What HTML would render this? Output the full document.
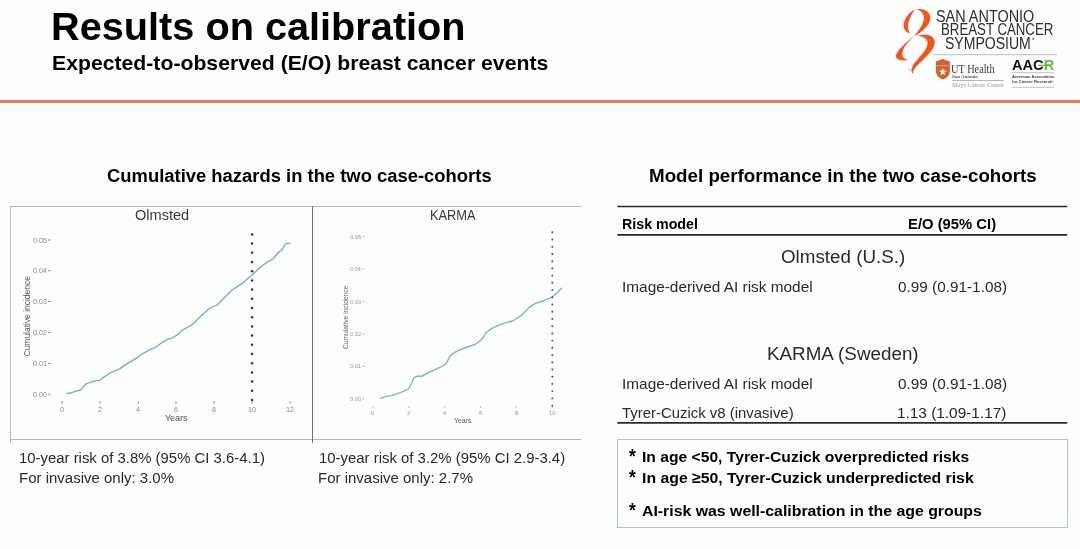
<!DOCTYPE html>
<html><head><meta charset="utf-8"><title>Results on calibration</title>
<style>
#w{position:absolute;left:0;top:0;width:1080px;height:549px;filter:blur(0.45px);}
html,body{margin:0;padding:0;background:#fdfdfd;}
body{width:1080px;height:549px;position:relative;overflow:hidden;font-family:"Liberation Sans",sans-serif;}
.t{position:absolute;white-space:pre;transform-origin:0 0;}
.ln{position:absolute;}
svg{position:absolute;left:0;top:0;overflow:visible}
</style></head><body><div id="w">
<!-- orange rule -->
<div class="ln" style="left:-8px;top:100px;width:1096px;height:3px;background:#ec7856"></div>

<!-- chart frame, table rules, notes box, curves -->
<svg width="1080" height="549" viewBox="0 0 1080 549">
  <!-- chart frame -->
  <g stroke="#b9b9b9" stroke-width="1" fill="none" shape-rendering="crispEdges">
    <line x1="10" y1="206.5" x2="581" y2="206.5"/>
    <line x1="10" y1="439.5" x2="581" y2="439.5"/>
    <line x1="10.5" y1="206" x2="10.5" y2="443"/>
  </g>
  <line x1="312.5" y1="206" x2="312.5" y2="443" stroke="#737373" stroke-width="1" shape-rendering="crispEdges"/>

  <!-- table rules -->
  <g stroke="#2a2a2a" fill="none">
    <line x1="617.3" y1="206.5" x2="1067.2" y2="206.5" stroke-width="1.5"/>
    <line x1="617.3" y1="234.8" x2="1067.2" y2="234.8" stroke-width="1.8"/>
    <line x1="617.3" y1="422.8" x2="1067.2" y2="422.8" stroke-width="1.8"/>
  </g>
  <!-- notes box -->
  <rect x="617.5" y="439.5" width="450" height="88" fill="none" stroke="#aec6d1" stroke-width="1"/>

  <!-- Olmsted chart -->
  <g stroke="#777" stroke-width="0.9" fill="none">
    <path d="M48.2 240H50.6 M48.2 270.6H50.6 M48.2 301.5H50.6 M48.2 332.5H50.6 M48.2 363.4H50.6 M48.2 394.2H50.6"/>
    <path d="M62 401.2V403.6 M100.2 401.2V403.6 M138.2 401.2V403.6 M176 401.2V403.6 M214 401.2V403.6 M252 401.2V403.6 M290 401.2V403.6"/>
  </g>
  <path id="olm" fill="none" stroke="#5cb0dc" stroke-width="1.3" stroke-linejoin="round" stroke-linecap="round"
   d="M67 393.4 L71 393 L76 391.2 L81 390 L83 387 L86 384 L90 382.4 L96 380.6 L99.6 380.6 L104 377 L110 373 L120 368.6 L126 364.4 L136 358.4 L142 354 L150 349.6 L156 347 L162 342.4 L168 339.2 L172 338 L178 334.4 L182 330.4 L190 326 L194 323 L203 314 L210 308 L217 305 L224 298 L232 290 L242 283.6 L252 275 L260 267.6 L268 261.6 L273 259 L278 253 L282 250 L285 244.4 L288 243.2 L290 243.6"/>
  <g fill="#2f22b4" id="od"><circle cx="252.1" cy="234.4" r="1.25"/><circle cx="252.1" cy="243.6" r="1.25"/><circle cx="252.1" cy="252.8" r="1.25"/><circle cx="252.1" cy="262.0" r="1.25"/><circle cx="252.1" cy="271.2" r="1.25"/><circle cx="252.1" cy="280.4" r="1.25"/><circle cx="252.1" cy="289.6" r="1.25"/><circle cx="252.1" cy="298.8" r="1.25"/><circle cx="252.1" cy="308.0" r="1.25"/><circle cx="252.1" cy="317.2" r="1.25"/><circle cx="252.1" cy="326.4" r="1.25"/><circle cx="252.1" cy="335.6" r="1.25"/><circle cx="252.1" cy="344.8" r="1.25"/><circle cx="252.1" cy="354.0" r="1.25"/><circle cx="252.1" cy="363.2" r="1.25"/><circle cx="252.1" cy="372.4" r="1.25"/><circle cx="252.1" cy="381.6" r="1.25"/><circle cx="252.1" cy="390.8" r="1.25"/><circle cx="252.1" cy="400.0" r="1.25"/></g>

  <!-- KARMA chart -->
  <g stroke="#9a9a9a" stroke-width="0.8" fill="none">
    <path d="M362.5 236.6H364.3 M362.5 269H364.3 M362.5 301.5H364.3 M362.5 334H364.3 M362.5 366.3H364.3 M362.5 398.8H364.3"/>
    <path d="M373 406.2V407.8 M408.8 406.2V407.8 M444.6 406.2V407.8 M480.5 406.2V407.8 M516.2 406.2V407.8 M552.3 406.2V407.8"/>
  </g>
  <path id="kar" fill="none" stroke="#6ab6dc" stroke-width="1.35" stroke-linejoin="round" stroke-linecap="round"
   d="M380.4 398.3 L386.5 396.1 L392 395.6 L397.4 393.7 L402.8 391.7 L408.3 389 L411.6 383.3 L413.8 377.8 L417 376.2 L422 376.2 L427.4 373.2 L435.6 369.4 L443.8 365.5 L446.5 362.8 L450.6 355.4 L453.4 353.2 L459.1 350.2 L467.3 347 L475.5 344.2 L482.3 338.8 L486.4 332.5 L491.9 328.4 L498.7 325.1 L505.5 322.9 L513.7 320.5 L521.9 315 L528.7 307.9 L535.6 303.3 L543.8 300.5 L552.2 297 L557.4 292.4 L561.5 288.3"/>
  <g fill="#4034b8" id="kd"><circle cx="552.3" cy="232.3" r="0.95"/><circle cx="552.3" cy="239.5" r="0.95"/><circle cx="552.3" cy="246.7" r="0.95"/><circle cx="552.3" cy="254.0" r="0.95"/><circle cx="552.3" cy="261.2" r="0.95"/><circle cx="552.3" cy="268.4" r="0.95"/><circle cx="552.3" cy="275.6" r="0.95"/><circle cx="552.3" cy="282.8" r="0.95"/><circle cx="552.3" cy="290.1" r="0.95"/><circle cx="552.3" cy="297.3" r="0.95"/><circle cx="552.3" cy="304.5" r="0.95"/><circle cx="552.3" cy="311.7" r="0.95"/><circle cx="552.3" cy="318.9" r="0.95"/><circle cx="552.3" cy="326.2" r="0.95"/><circle cx="552.3" cy="333.4" r="0.95"/><circle cx="552.3" cy="340.6" r="0.95"/><circle cx="552.3" cy="347.8" r="0.95"/><circle cx="552.3" cy="355.0" r="0.95"/><circle cx="552.3" cy="362.3" r="0.95"/><circle cx="552.3" cy="369.5" r="0.95"/><circle cx="552.3" cy="376.7" r="0.95"/><circle cx="552.3" cy="383.9" r="0.95"/><circle cx="552.3" cy="391.1" r="0.95"/><circle cx="552.3" cy="398.4" r="0.95"/><circle cx="552.3" cy="405.6" r="0.95"/></g>
</svg>

<!-- SABCS ribbon -->
<svg width="50" height="75" viewBox="0 0 366 549" style="left:890px;top:4px">
  <g fill="#f0571d">
    <path d="M185 40 C140 55 100 110 100 160 C100 190 120 210 150 216 C131 196 126 160 140 120 C150 90 165 60 185 40 Z"/>
    <path d="M190 40 C240 25 300 50 295 110 C290 160 230 210 175 235 C215 190 250 140 248 100 C246 65 225 45 190 40 Z"/>
    <path d="M205 232 C260 210 330 230 328 280 C325 340 250 400 200 450 C180 470 165 490 168 512 C150 495 155 465 180 430 C220 380 275 330 275 285 C275 255 250 240 205 232 Z"/>
    <path d="M176 232 C130 270 60 330 42 375 C35 400 80 420 130 412 C100 400 85 380 92 350 C100 310 140 270 176 232 Z"/>
    <circle cx="140" cy="480" r="4"/>
  </g>
</svg>
<svg width="1080" height="549" viewBox="0 0 1080 549">
  <line x1="933.4" y1="54.7" x2="1057" y2="54.7" stroke="#b5b5b5" stroke-width="0.9"/>
  <circle cx="1033.3" cy="38.8" r="0.95" fill="#555"/>
  <!-- UT shield -->
  <path d="M935.9 61.6 L942.9 59 L949.9 61.6 L949.9 70.5 C949.9 75.5 946.5 78.3 942.9 79.6 C939.3 78.3 935.9 75.5 935.9 70.5 Z" fill="#d5612b"/>
  <path d="M936.4 65.8 H949.4" stroke="#eeb394" stroke-width="0.8"/>
  <path d="M942.80 67.90 L943.83 70.48 L946.60 70.66 L944.46 72.44 L945.15 75.14 L942.80 73.65 L940.45 75.14 L941.14 72.44 L939.00 70.66 L941.77 70.48 Z" fill="#fff"/>
  <line x1="951.9" y1="80.5" x2="1003.8" y2="80.5" stroke="#8a8a8a" stroke-width="0.6"/>
  <!-- AACR rules -->
  <line x1="1038.3" y1="65.4" x2="1049" y2="65.4" stroke="#62bd4a" stroke-width="1.3"/>
  <line x1="1011.6" y1="72.7" x2="1054" y2="72.7" stroke="#9a9a9a" stroke-width="0.6"/>
  <line x1="1011.6" y1="87.3" x2="1054" y2="87.3" stroke="#9a9a9a" stroke-width="0.6"/>
</svg>

<div class="t" style="left:51.39px;top:7.00px;font-size:39.5px;line-height:39.5px;font-weight:bold;color:#000;font-family:'Liberation Sans', sans-serif;transform:rotate(0.001deg) scaleX(1.0048);">Results on calibration</div>
<div class="t" style="left:51.58px;top:52.30px;font-size:21px;line-height:21px;font-weight:bold;color:#000;font-family:'Liberation Sans', sans-serif;transform:rotate(0.001deg) scaleX(1.0100);">Expected-to-observed (E/O) breast cancer events</div>
<div class="t" style="left:106.83px;top:166.70px;font-size:18px;line-height:18px;font-weight:bold;color:#000;font-family:'Liberation Sans', sans-serif;transform:rotate(0.001deg) scaleX(1.0227);">Cumulative hazards in the two case-cohorts</div>
<div class="t" style="left:649.00px;top:166.60px;font-size:18px;line-height:18px;font-weight:bold;color:#000;font-family:'Liberation Sans', sans-serif;transform:rotate(0.001deg) scaleX(1.0422);">Model performance in the two case-cohorts</div>
<div class="t" style="left:134.81px;top:208.60px;font-size:13.9px;line-height:13.9px;font-weight:normal;color:#3a3a3a;font-family:'Liberation Sans', sans-serif;transform:rotate(0.001deg) scaleX(1.0480);">Olmsted</div>
<div class="t" style="left:429.78px;top:208.60px;font-size:13.9px;line-height:13.9px;font-weight:normal;color:#3a3a3a;font-family:'Liberation Sans', sans-serif;transform:rotate(0.001deg) scaleX(0.9223);">KARMA</div>
<div class="t" style="left:621.77px;top:218.00px;font-size:13.8px;line-height:13.8px;font-weight:bold;color:#000;font-family:'Liberation Sans', sans-serif;transform:rotate(0.001deg) scaleX(1.0314);">Risk model</div>
<div class="t" style="left:908.03px;top:218.00px;font-size:13.8px;line-height:13.8px;font-weight:bold;color:#000;font-family:'Liberation Sans', sans-serif;transform:rotate(0.001deg) scaleX(1.0741);">E/O (95% CI)</div>
<div class="t" style="left:780.85px;top:247.60px;font-size:18.7px;line-height:18.7px;font-weight:normal;color:#2a2a2a;font-family:'Liberation Sans', sans-serif;transform:rotate(0.001deg) scaleX(1.0053);">Olmsted (U.S.)</div>
<div class="t" style="left:621.70px;top:280.00px;font-size:14.8px;line-height:14.8px;font-weight:normal;color:#2a2a2a;font-family:'Liberation Sans', sans-serif;transform:rotate(0.001deg) scaleX(1.0394);">Image-derived AI risk model</div>
<div class="t" style="left:897.68px;top:280.00px;font-size:14.8px;line-height:14.8px;font-weight:normal;color:#2a2a2a;font-family:'Liberation Sans', sans-serif;transform:rotate(0.001deg) scaleX(1.0356);">0.99 (0.91-1.08)</div>
<div class="t" style="left:767.09px;top:344.70px;font-size:18.7px;line-height:18.7px;font-weight:normal;color:#2a2a2a;font-family:'Liberation Sans', sans-serif;transform:rotate(0.001deg) scaleX(1.0068);">KARMA (Sweden)</div>
<div class="t" style="left:621.70px;top:377.30px;font-size:14.8px;line-height:14.8px;font-weight:normal;color:#2a2a2a;font-family:'Liberation Sans', sans-serif;transform:rotate(0.001deg) scaleX(1.0394);">Image-derived AI risk model</div>
<div class="t" style="left:897.68px;top:377.30px;font-size:14.8px;line-height:14.8px;font-weight:normal;color:#2a2a2a;font-family:'Liberation Sans', sans-serif;transform:rotate(0.001deg) scaleX(1.0356);">0.99 (0.91-1.08)</div>
<div class="t" style="left:622.35px;top:405.80px;font-size:14.8px;line-height:14.8px;font-weight:normal;color:#2a2a2a;font-family:'Liberation Sans', sans-serif;transform:rotate(0.001deg) scaleX(1.0083);">Tyrer-Cuzick v8 (invasive)</div>
<div class="t" style="left:897.36px;top:405.80px;font-size:14.8px;line-height:14.8px;font-weight:normal;color:#2a2a2a;font-family:'Liberation Sans', sans-serif;transform:rotate(0.001deg) scaleX(1.0386);">1.13 (1.09-1.17)</div>
<div class="t" style="left:629.40px;top:446.60px;font-size:19.3px;line-height:19.3px;font-weight:bold;color:#000;font-family:'Liberation Sans', sans-serif;transform:rotate(0.001deg) scaleX(0.9067);">*</div>
<div class="t" style="left:629.40px;top:468.40px;font-size:19.3px;line-height:19.3px;font-weight:bold;color:#000;font-family:'Liberation Sans', sans-serif;transform:rotate(0.001deg) scaleX(0.9067);">*</div>
<div class="t" style="left:629.40px;top:501.30px;font-size:19.3px;line-height:19.3px;font-weight:bold;color:#000;font-family:'Liberation Sans', sans-serif;transform:rotate(0.001deg) scaleX(0.9067);">*</div>
<div class="t" style="left:641.88px;top:448.50px;font-size:15.3px;line-height:15.3px;font-weight:bold;color:#000;font-family:'Liberation Sans', sans-serif;transform:rotate(0.001deg) scaleX(1.0231);">In age &lt;50, Tyrer-Cuzick overpredicted risks</div>
<div class="t" style="left:641.87px;top:470.30px;font-size:15.3px;line-height:15.3px;font-weight:bold;color:#000;font-family:'Liberation Sans', sans-serif;transform:rotate(0.001deg) scaleX(1.0334);">In age ≥50, Tyrer-Cuzick underpredicted risk</div>
<div class="t" style="left:641.88px;top:503.20px;font-size:15.3px;line-height:15.3px;font-weight:bold;color:#000;font-family:'Liberation Sans', sans-serif;transform:rotate(0.001deg) scaleX(1.0358);">AI-risk was well-calibration in the age groups</div>
<div class="t" style="left:19.30px;top:450.70px;font-size:14.9px;line-height:14.9px;font-weight:normal;color:#2a2a2a;font-family:'Liberation Sans', sans-serif;transform:rotate(0.001deg) scaleX(1.0004);">10-year risk of 3.8% (95% CI 3.6-4.1)</div>
<div class="t" style="left:19.04px;top:470.90px;font-size:14.9px;line-height:14.9px;font-weight:normal;color:#2a2a2a;font-family:'Liberation Sans', sans-serif;transform:rotate(0.001deg) scaleX(1.0069);">For invasive only: 3.0%</div>
<div class="t" style="left:318.70px;top:450.70px;font-size:14.9px;line-height:14.9px;font-weight:normal;color:#2a2a2a;font-family:'Liberation Sans', sans-serif;transform:rotate(0.001deg) scaleX(1.0012);">10-year risk of 3.2% (95% CI 2.9-3.4)</div>
<div class="t" style="left:318.44px;top:470.90px;font-size:14.9px;line-height:14.9px;font-weight:normal;color:#2a2a2a;font-family:'Liberation Sans', sans-serif;transform:rotate(0.001deg) scaleX(1.0069);">For invasive only: 2.7%</div>
<div class="t" style="left:32.56px;top:236.70px;font-size:7.6px;line-height:7.6px;font-weight:normal;color:#8a8a8a;font-family:'Liberation Sans', sans-serif;transform:rotate(0.001deg) scaleX(0.9404);">0.05</div>
<div class="t" style="left:32.56px;top:267.30px;font-size:7.6px;line-height:7.6px;font-weight:normal;color:#8a8a8a;font-family:'Liberation Sans', sans-serif;transform:rotate(0.001deg) scaleX(0.9404);">0.04</div>
<div class="t" style="left:32.56px;top:298.40px;font-size:7.6px;line-height:7.6px;font-weight:normal;color:#8a8a8a;font-family:'Liberation Sans', sans-serif;transform:rotate(0.001deg) scaleX(0.9404);">0.03</div>
<div class="t" style="left:32.56px;top:329.40px;font-size:7.6px;line-height:7.6px;font-weight:normal;color:#8a8a8a;font-family:'Liberation Sans', sans-serif;transform:rotate(0.001deg) scaleX(0.9404);">0.02</div>
<div class="t" style="left:32.56px;top:360.20px;font-size:7.6px;line-height:7.6px;font-weight:normal;color:#8a8a8a;font-family:'Liberation Sans', sans-serif;transform:rotate(0.001deg) scaleX(0.9404);">0.01</div>
<div class="t" style="left:32.56px;top:390.90px;font-size:7.6px;line-height:7.6px;font-weight:normal;color:#8a8a8a;font-family:'Liberation Sans', sans-serif;transform:rotate(0.001deg) scaleX(0.9404);">0.00</div>
<div class="t" style="left:59.76px;top:405.90px;font-size:7.6px;line-height:7.6px;font-weight:normal;color:#8a8a8a;font-family:'Liberation Sans', sans-serif;transform:rotate(0.001deg) scaleX(0.9600);">0</div>
<div class="t" style="left:98.16px;top:405.90px;font-size:7.6px;line-height:7.6px;font-weight:normal;color:#8a8a8a;font-family:'Liberation Sans', sans-serif;transform:rotate(0.001deg) scaleX(0.9600);">2</div>
<div class="t" style="left:136.16px;top:405.90px;font-size:7.6px;line-height:7.6px;font-weight:normal;color:#8a8a8a;font-family:'Liberation Sans', sans-serif;transform:rotate(0.001deg) scaleX(0.9600);">4</div>
<div class="t" style="left:173.76px;top:405.90px;font-size:7.6px;line-height:7.6px;font-weight:normal;color:#8a8a8a;font-family:'Liberation Sans', sans-serif;transform:rotate(0.001deg) scaleX(0.9600);">6</div>
<div class="t" style="left:211.56px;top:405.90px;font-size:7.6px;line-height:7.6px;font-weight:normal;color:#8a8a8a;font-family:'Liberation Sans', sans-serif;transform:rotate(0.001deg) scaleX(0.9600);">8</div>
<div class="t" style="left:247.82px;top:405.90px;font-size:7.6px;line-height:7.6px;font-weight:normal;color:#8a8a8a;font-family:'Liberation Sans', sans-serif;transform:rotate(0.001deg) scaleX(0.9548);">10</div>
<div class="t" style="left:285.82px;top:405.90px;font-size:7.6px;line-height:7.6px;font-weight:normal;color:#8a8a8a;font-family:'Liberation Sans', sans-serif;transform:rotate(0.001deg) scaleX(0.9548);">12</div>
<div class="t" style="left:164.74px;top:414.00px;font-size:8.6px;line-height:8.6px;font-weight:normal;color:#4a4a4a;font-family:'Liberation Sans', sans-serif;transform:rotate(0.001deg) scaleX(1.0353);">Years</div>
<div class="t" style="left:0;top:0;font-size:9px;line-height:9px;font-weight:normal;color:#5c5c5c;font-family:'Liberation Sans', sans-serif;transform:translate(23.00px,356.47px) rotate(-90deg) scaleX(0.9392);">Cumulative incidence</div>
<div class="t" style="left:349.75px;top:234.50px;font-size:5.8px;line-height:5.8px;font-weight:normal;color:#9a9a9a;font-family:'Liberation Sans', sans-serif;transform:rotate(0.001deg) scaleX(0.9860);">0.05</div>
<div class="t" style="left:349.76px;top:266.90px;font-size:5.8px;line-height:5.8px;font-weight:normal;color:#9a9a9a;font-family:'Liberation Sans', sans-serif;transform:rotate(0.001deg) scaleX(0.9636);">0.04</div>
<div class="t" style="left:349.75px;top:299.50px;font-size:5.8px;line-height:5.8px;font-weight:normal;color:#9a9a9a;font-family:'Liberation Sans', sans-serif;transform:rotate(0.001deg) scaleX(0.9860);">0.03</div>
<div class="t" style="left:349.75px;top:331.90px;font-size:5.8px;line-height:5.8px;font-weight:normal;color:#9a9a9a;font-family:'Liberation Sans', sans-serif;transform:rotate(0.001deg) scaleX(0.9860);">0.02</div>
<div class="t" style="left:349.75px;top:364.20px;font-size:5.8px;line-height:5.8px;font-weight:normal;color:#9a9a9a;font-family:'Liberation Sans', sans-serif;transform:rotate(0.001deg) scaleX(0.9860);">0.01</div>
<div class="t" style="left:349.75px;top:396.70px;font-size:5.8px;line-height:5.8px;font-weight:normal;color:#9a9a9a;font-family:'Liberation Sans', sans-serif;transform:rotate(0.001deg) scaleX(0.9860);">0.00</div>
<div class="t" style="left:371.35px;top:410.50px;font-size:5.8px;line-height:5.8px;font-weight:normal;color:#9a9a9a;font-family:'Liberation Sans', sans-serif;transform:rotate(0.001deg) scaleX(1.0182);">0</div>
<div class="t" style="left:407.15px;top:410.50px;font-size:5.8px;line-height:5.8px;font-weight:normal;color:#9a9a9a;font-family:'Liberation Sans', sans-serif;transform:rotate(0.001deg) scaleX(1.0182);">2</div>
<div class="t" style="left:443.10px;top:410.50px;font-size:5.8px;line-height:5.8px;font-weight:normal;color:#9a9a9a;font-family:'Liberation Sans', sans-serif;transform:rotate(0.001deg) scaleX(0.9333);">4</div>
<div class="t" style="left:478.85px;top:410.50px;font-size:5.8px;line-height:5.8px;font-weight:normal;color:#9a9a9a;font-family:'Liberation Sans', sans-serif;transform:rotate(0.001deg) scaleX(1.0182);">6</div>
<div class="t" style="left:514.55px;top:410.50px;font-size:5.8px;line-height:5.8px;font-weight:normal;color:#9a9a9a;font-family:'Liberation Sans', sans-serif;transform:rotate(0.001deg) scaleX(1.0182);">8</div>
<div class="t" style="left:548.90px;top:410.50px;font-size:5.8px;line-height:5.8px;font-weight:normal;color:#9a9a9a;font-family:'Liberation Sans', sans-serif;transform:rotate(0.001deg) scaleX(1.0087);">10</div>
<div class="t" style="left:453.74px;top:417.60px;font-size:6.6px;line-height:6.6px;font-weight:normal;color:#555;font-family:'Liberation Sans', sans-serif;transform:rotate(0.001deg) scaleX(1.0462);">Years</div>
<div class="t" style="left:0;top:0;font-size:7px;line-height:7px;font-weight:normal;color:#666;font-family:'Liberation Sans', sans-serif;transform:translate(341.90px,348.94px) rotate(-90deg) scaleX(0.9500);">Cumulative incidence</div>
<div class="t" style="left:935.94px;top:8.00px;font-size:16.3px;line-height:16.3px;font-weight:normal;color:#2e2e2e;font-family:'Liberation Sans', sans-serif;transform:rotate(0.001deg) scaleX(0.8858);">SAN ANTONIO</div>
<div class="t" style="left:941.18px;top:21.40px;font-size:16.3px;line-height:16.3px;font-weight:normal;color:#2e2e2e;font-family:'Liberation Sans', sans-serif;transform:rotate(0.001deg) scaleX(0.8132);">BREAST CANCER</div>
<div class="t" style="left:944.95px;top:35.00px;font-size:16.3px;line-height:16.3px;font-weight:normal;color:#2e2e2e;font-family:'Liberation Sans', sans-serif;transform:rotate(0.001deg) scaleX(0.8615);">SYMPOSIUM</div>
<div class="t" style="left:951.49px;top:62.80px;font-size:12.4px;line-height:12.4px;font-weight:normal;color:#3a3a3a;font-family:'Liberation Serif', serif;transform:rotate(0.001deg) scaleX(0.8327);">UT Health</div>
<div class="t" style="left:951.63px;top:75.20px;font-size:4.6px;line-height:4.6px;font-weight:bold;color:#555;font-family:'Liberation Serif', serif;transform:rotate(0.001deg) scaleX(1.0695);">San Antonio</div>
<div class="t" style="left:952.05px;top:82.00px;font-size:6.2px;line-height:6.2px;font-weight:normal;color:#9a9a9a;font-family:'Liberation Serif', serif;transform:rotate(0.001deg) scaleX(1.0187);">Mays Cancer Center</div>
<div class="t" style="left:1011.64px;top:58.20px;font-size:14px;line-height:14px;font-weight:bold;color:#111;font-family:'Liberation Sans', sans-serif;transform:rotate(0.001deg) scaleX(1.0440);">AAC<span style="color:#62bd4a">R</span></div>
<div class="t" style="left:1011.66px;top:75.20px;font-size:4.3px;line-height:4.3px;font-weight:bold;color:#444;font-family:'Liberation Sans', sans-serif;transform:rotate(0.001deg) scaleX(0.9461);">American Association</div>
<div class="t" style="left:1011.90px;top:80.40px;font-size:4.3px;line-height:4.3px;font-weight:bold;color:#444;font-family:'Liberation Sans', sans-serif;transform:rotate(0.001deg) scaleX(0.9653);">for Cancer Research</div>

</div></body></html>
